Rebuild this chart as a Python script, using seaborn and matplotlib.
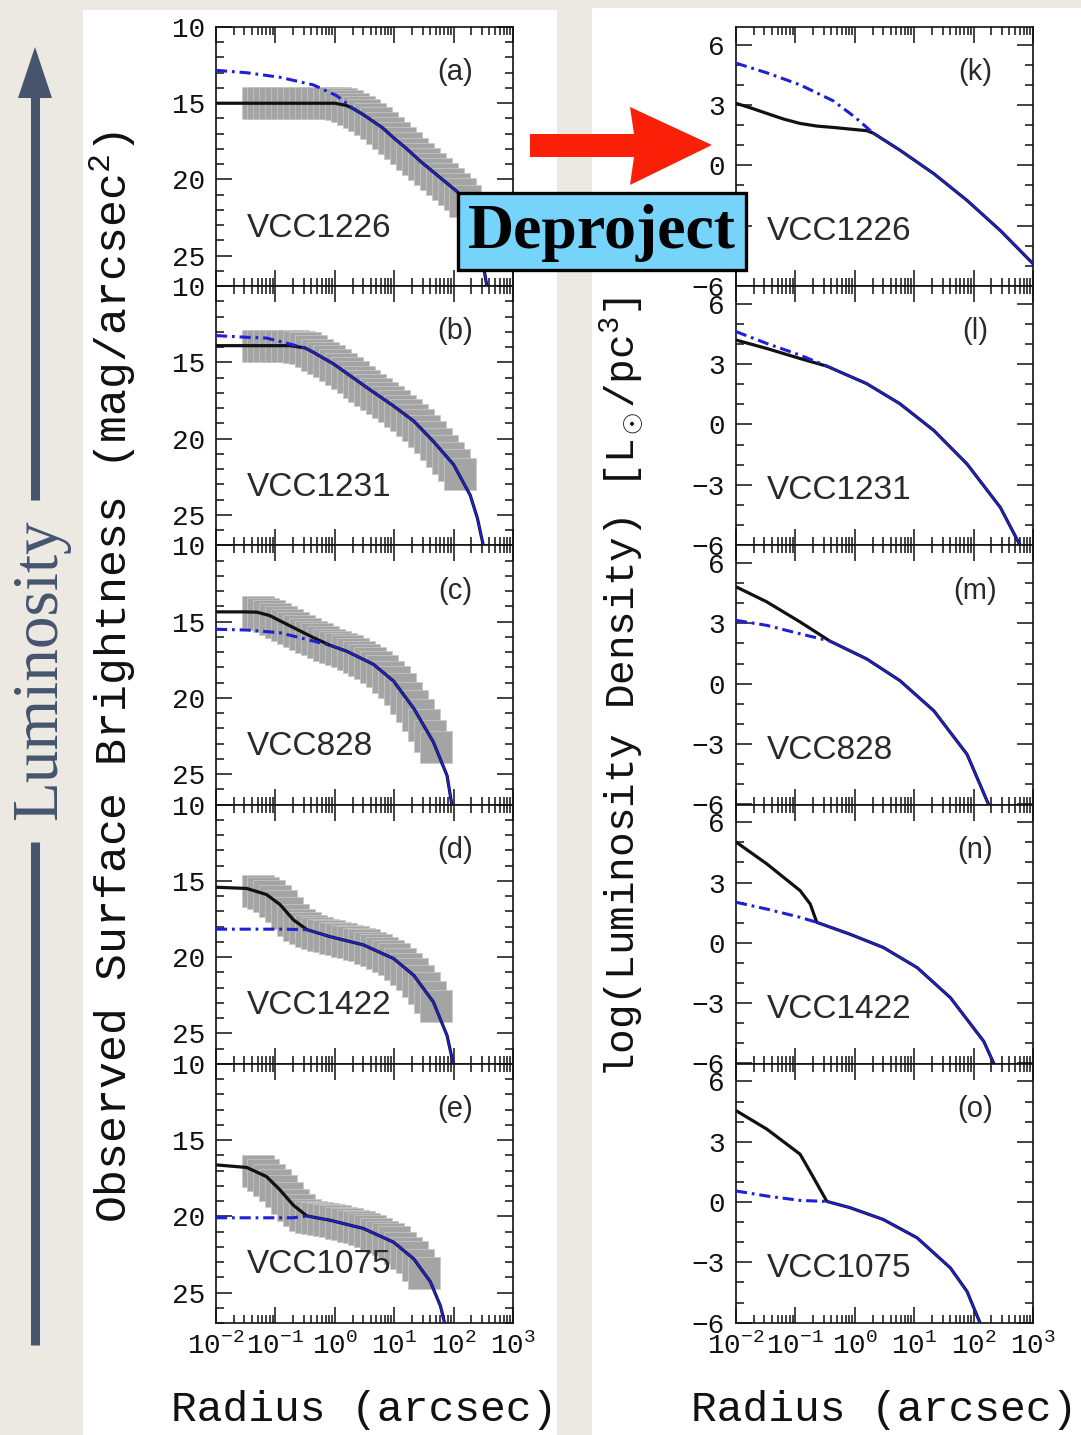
import numpy as np
import pandas as pd
import matplotlib
matplotlib.use("Agg")
import matplotlib.pyplot as plt
import seaborn as sns
from matplotlib.patches import Rectangle, Polygon
from matplotlib.lines import Line2D
from matplotlib.ticker import LogLocator, MultipleLocator, FixedLocator, NullFormatter

# ------------------------------------------------------------------
# Surface-brightness profiles (mag/arcsec^2) vs radius (arcsec)
# ------------------------------------------------------------------
names = ["VCC1226", "VCC1231", "VCC828", "VCC1422", "VCC1075"]
sb_letters = ["(a)", "(b)", "(c)", "(d)", "(e)"]
lum_letters = ["(k)", "(l)", "(m)", "(n)", "(o)"]

# radii of the observed isophotes (arcsec); each galaxy uses the first len(obs_mu_*) of them
obs_radius = [0.05, 0.063, 0.079, 0.1, 0.126, 0.158, 0.2, 0.251, 0.316, 0.398,
              0.5, 0.63, 0.79, 1.0, 1.26, 1.58, 2.0, 2.51, 3.16, 3.98,
              5.0, 6.31, 7.94, 10, 12.6, 15.8, 20, 25.1, 31.6, 39.8,
              50, 63.1, 79.4, 100, 126, 158]

# observed surface brightness (grey error boxes)
obs_mu_a = [15.0, 15.0, 15.0, 15.0, 15.0, 15.0, 15.0, 15.0, 15.0, 15.0,
            15.0, 15.0, 15.0, 15.0, 15.05, 15.15, 15.35, 15.55, 15.8, 16.05,
            16.3, 16.6, 16.95, 17.3, 17.62, 17.95, 18.3, 18.65, 19.0, 19.3,
            19.65, 19.95, 20.3, 20.6, 20.95, 21.4]
obs_mu_b = [13.9, 13.9, 13.9, 13.9, 13.9, 13.92, 13.95, 14.0, 14.08, 14.25,
            14.48, 14.7, 14.92, 15.15, 15.42, 15.7, 15.98, 16.27, 16.55, 16.8,
            17.05, 17.3, 17.6, 17.88, 18.17, 18.45, 18.75, 19.1, 19.5, 19.9,
            20.35, 20.8, 21.25, 21.7, 22.3]
obs_mu_c = [14.4, 14.5, 14.65, 14.8, 15.0, 15.2, 15.4, 15.6, 15.8, 15.98,
            16.15, 16.33, 16.5, 16.65, 16.8, 16.95, 17.13, 17.32, 17.5, 17.7,
            17.95, 18.25, 18.6, 18.95, 19.45, 20.0, 20.55, 21.15, 21.8, 22.5,
            23.2]
obs_mu_d = [15.65, 15.82, 16.0, 16.3, 16.65, 17.1, 17.55, 17.88, 18.12, 18.3,
            18.42, 18.53, 18.63, 18.72, 18.82, 18.92, 19.02, 19.12, 19.22, 19.38,
            19.55, 19.72, 19.92, 20.12, 20.45, 20.8, 21.1, 21.55, 22.05, 22.6,
            23.2]
obs_mu_e = [17.05, 17.3, 17.6, 17.95, 18.35, 18.8, 19.27, 19.62, 19.92, 20.05,
            20.12, 20.18, 20.25, 20.33, 20.42, 20.52, 20.62, 20.72, 20.82, 20.98,
            21.15, 21.33, 21.52, 21.72, 22.05, 22.4, 22.7, 23.2, 23.75]

# full model (solid black)
fit_r_a = [0.01, 0.316, 1.0, 1.585, 2.04, 3.16, 6.31, 10, 15.85, 27.5, 60.3, 115, 200, 251, 316, 363]
fit_mu_a = [15.0, 15.0, 15.0, 15.15, 15.35, 15.8, 16.6, 17.3, 17.95, 18.8, 19.9, 20.8, 21.9, 23.3, 25.6, 27.0]
fit_r_b = [0.01, 0.178, 0.316, 0.437, 0.955, 3.47, 9.77, 21.4, 45.7, 100, 190, 251, 316]
fit_mu_b = [13.9, 13.9, 14.05, 14.34, 15.1, 16.65, 17.86, 18.85, 20.18, 21.7, 23.7, 25.2, 27.0]
fit_r_c = [0.01, 0.03, 0.049, 0.08, 0.12, 0.437, 0.83, 1.585, 4.47, 9.77, 21.4, 45.7, 77.6, 93.3]
fit_mu_c = [14.36, 14.36, 14.38, 14.6, 14.95, 16.05, 16.55, 16.94, 17.8, 18.9, 20.7, 22.9, 25.1, 27.0]
fit_r_d = [0.01, 0.033, 0.071, 0.12, 0.2, 0.339, 0.83, 3.02, 9.77, 21.4, 45.7, 77.6, 100]
fit_mu_d = [15.42, 15.5, 15.9, 16.56, 17.55, 18.2, 18.66, 19.2, 20.1, 21.2, 22.95, 25.15, 27.1]
fit_r_e = [0.01, 0.033, 0.071, 0.12, 0.2, 0.339, 0.83, 3.02, 9.77, 21.4, 40.7, 60.3, 72.4]
fit_mu_e = [16.63, 16.8, 17.4, 18.28, 19.27, 19.98, 20.26, 20.8, 21.7, 22.8, 24.3, 25.9, 27.2]

# inner part of the galaxy-only model (blue dash-dot), ending where it joins the full model
gal_r_a = [0.01, 0.033, 0.12, 0.437, 1.07, 2.04]
gal_mu_a = [12.84, 13.0, 13.3, 13.8, 14.5, 15.35]
gal_r_b = [0.01, 0.033, 0.071, 0.178, 0.316]
gal_mu_b = [13.24, 13.35, 13.4, 13.8, 14.05]
gal_r_c = [0.01, 0.033, 0.12, 0.339, 0.83]
gal_mu_c = [15.5, 15.55, 15.73, 16.17, 16.55]
gal_r_d = [0.01, 0.12, 0.339]
gal_mu_d = [18.17, 18.17, 18.2]
gal_r_e = [0.01, 0.2, 0.339]
gal_mu_e = [20.1, 20.1, 19.98]

# ------------------------------------------------------------------
# Deprojected luminosity density, log(L_sun/pc^3)
# ------------------------------------------------------------------
den_r_k = [0.01, 0.017, 0.033, 0.063, 0.12, 0.229, 0.437, 0.83, 1.585, 2.04, 5.75, 21.4, 77.6, 282, 1000]
den_k = [3.08, 2.87, 2.58, 2.3, 2.08, 1.95, 1.88, 1.8, 1.72, 1.6, 0.75, -0.42, -1.75, -3.25, -4.9]
den_r_l = [0.01, 0.033, 0.12, 0.339, 1.585, 5.75, 21.4, 77.6, 282, 603]
den_l = [4.2, 3.78, 3.28, 2.9, 2.03, 1.03, -0.3, -1.97, -4.13, -6.0]
den_r_m = [0.01, 0.033, 0.12, 0.38, 1.585, 5.75, 21.4, 77.6, 178]
den_m = [4.82, 4.07, 3.07, 2.12, 1.23, 0.15, -1.35, -3.52, -6.0]
den_r_n = [0.01, 0.033, 0.12, 0.178, 0.229, 0.83, 3.02, 11.2, 40.7, 148, 219]
den_n = [5.02, 3.93, 2.6, 1.93, 1.02, 0.43, -0.23, -1.23, -2.73, -4.9, -6.0]
den_r_o = [0.01, 0.033, 0.12, 0.178, 0.339, 0.83, 3.02, 11.2, 40.7, 77.6, 129]
den_o = [4.55, 3.63, 2.38, 1.5, 0.03, -0.28, -0.87, -1.78, -3.28, -4.45, -6.03]

galden_r_k = [0.01, 0.033, 0.12, 0.437, 1.0, 2.04]
galden_k = [5.08, 4.6, 4.0, 3.2, 2.4, 1.6]
galden_r_l = [0.01, 0.033, 0.12, 0.339]
galden_l = [4.62, 4.03, 3.45, 2.9]
galden_r_m = [0.01, 0.033, 0.12, 0.38]
galden_m = [3.15, 2.9, 2.48, 2.12]
galden_r_n = [0.01, 0.033, 0.12, 0.229]
galden_n = [2.02, 1.68, 1.27, 1.02]
galden_r_o = [0.01, 0.033, 0.12, 0.339]
galden_o = [0.55, 0.3, 0.08, 0.03]

sb_panels = [
    (obs_mu_a, fit_r_a, fit_mu_a, gal_r_a, gal_mu_a),
    (obs_mu_b, fit_r_b, fit_mu_b, gal_r_b, gal_mu_b),
    (obs_mu_c, fit_r_c, fit_mu_c, gal_r_c, gal_mu_c),
    (obs_mu_d, fit_r_d, fit_mu_d, gal_r_d, gal_mu_d),
    (obs_mu_e, fit_r_e, fit_mu_e, gal_r_e, gal_mu_e),
]
den_panels = [
    (den_r_k, den_k, galden_r_k, galden_k),
    (den_r_l, den_l, galden_r_l, galden_l),
    (den_r_m, den_m, galden_r_m, galden_m),
    (den_r_n, den_n, galden_r_n, galden_n),
    (den_r_o, den_o, galden_r_o, galden_o),
]

# ------------------------------------------------------------------
W, H, DPI = 1081, 1435, 100
BG = "#ece9e3"
BLUE = "#1f1fd6"
BLACK = "#111111"
SLATE = "#46546e"
DASHDOT = (0, (8, 3.5, 2, 3.5))

sns.set_theme(style="ticks")
plt.rcParams["font.family"] = ["Liberation Mono", "DejaVu Sans"]
plt.rcParams["mathtext.fontset"] = "custom"
plt.rcParams["mathtext.rm"] = "Liberation Mono"
plt.rcParams["mathtext.it"] = "Liberation Mono"
plt.rcParams["mathtext.bf"] = "Liberation Mono"
plt.rcParams["axes.unicode_minus"] = True
plt.rcParams["lines.scale_dashes"] = False

fig = plt.figure(figsize=(W / DPI, H / DPI), dpi=DPI)
fig.patch.set_facecolor(BG)


def fx(px):
    return px / W


def fy(py):
    return 1 - py / H


def box(x0, y0, x1, y1):
    return [fx(x0), fy(y1), (x1 - x0) / W, (y1 - y0) / H]


# white sheets behind each column
fig.add_artist(Rectangle((fx(83), 0), (557 - 83) / W, (1435 - 10) / H,
                         transform=fig.transFigure, facecolor="white",
                         edgecolor="none", zorder=-10))
fig.add_artist(Rectangle((fx(592), 0), (1081 - 592) / W, (1435 - 8) / H,
                         transform=fig.transFigure, facecolor="white",
                         edgecolor="none", zorder=-10))

ROW_TOP = 27.0
ROW_H = 259.2


def style_axis(ax, bottom_labels):
    ax.set_xscale("log")
    ax.set_xlim(0.01, 1000)
    ax.xaxis.set_major_locator(LogLocator(base=10, numticks=12))
    ax.xaxis.set_minor_locator(LogLocator(base=10, subs=np.arange(2, 10), numticks=12))
    ax.xaxis.set_minor_formatter(NullFormatter())
    ax.tick_params(which="both", direction="in", top=True, right=True,
                   width=1.1, color=BLACK, labelcolor=BLACK)
    ax.tick_params(which="major", length=11.5)
    ax.tick_params(which="minor", length=5.5)
    ax.tick_params(axis="y", labelsize=20, pad=8)
    ax.tick_params(axis="x", labelsize=20, pad=7, labelbottom=bottom_labels)
    for s in ax.spines.values():
        s.set_linewidth(1.2)
        s.set_color(BLACK)
    ax.set_xlabel("")
    ax.set_ylabel("")
    ax.set_facecolor("white")


for i in range(5):
    top = ROW_TOP + ROW_H * i
    last = i == 4

    # ---------------- left column: surface brightness ----------------
    obs_mu, fit_r, fit_mu, gal_r, gal_mu = sb_panels[i]
    ax = fig.add_axes(box(216, top, 513, top + ROW_H))
    obs = pd.DataFrame({"r": obs_radius[:len(obs_mu)], "mu": obs_mu})
    sns.scatterplot(data=obs, x="r", y="mu", ax=ax, marker="s", s=520,
                    color="#a4a4a4", edgecolor="#c8c8c8", linewidth=0.5,
                    legend=False, zorder=1)
    sns.lineplot(x=fit_r, y=fit_mu, ax=ax, color=BLACK, lw=2.3,
                 sort=False, estimator=None, zorder=2)
    k = fit_r.index(gal_r[-1])
    sns.lineplot(x=fit_r[k:], y=fit_mu[k:], ax=ax, color=BLUE, lw=1.4,
                 sort=False, estimator=None, zorder=3)
    sns.lineplot(x=gal_r, y=gal_mu, ax=ax, color=BLUE, lw=2.2,
                 linestyle=DASHDOT, sort=False, estimator=None, zorder=3)
    style_axis(ax, last)
    ax.set_ylim(27, 10)
    ax.yaxis.set_major_locator(FixedLocator([10, 15, 20, 25]))
    ax.yaxis.set_minor_locator(MultipleLocator(1))
    ax.text(0.805, 0.826, sb_letters[i], transform=ax.transAxes, ha="center",
            va="center", fontsize=21, family=["Liberation Sans"], color="#2a2a2a")
    ax.text(0.104, 0.224, names[i], transform=ax.transAxes, ha="left",
            va="center", fontsize=24, family=["Liberation Sans"], color="#2a2a2a")

    # ---------------- right column: luminosity density ----------------
    d_r, d_v, g_r, g_v = den_panels[i]
    ax2 = fig.add_axes(box(736, top, 1033, top + ROW_H))
    sns.lineplot(x=d_r, y=d_v, ax=ax2, color=BLACK, lw=2.3,
                 sort=False, estimator=None, zorder=2)
    k = d_r.index(g_r[-1])
    sns.lineplot(x=d_r[k:], y=d_v[k:], ax=ax2, color=BLUE, lw=1.4,
                 sort=False, estimator=None, zorder=3)
    sns.lineplot(x=g_r, y=g_v, ax=ax2, color=BLUE, lw=2.2,
                 linestyle=DASHDOT, sort=False, estimator=None, zorder=3)
    style_axis(ax2, last)
    ax2.set_ylim(-6.02, 6.88)
    ax2.yaxis.set_major_locator(FixedLocator([-6, -3, 0, 3, 6]))
    ax2.yaxis.set_minor_locator(MultipleLocator(1))
    ax2.text(0.805, 0.826, lum_letters[i], transform=ax2.transAxes, ha="center",
             va="center", fontsize=21, family=["Liberation Sans"], color="#2a2a2a")
    ax2.text(0.104, 0.21, names[i], transform=ax2.transAxes, ha="left",
             va="center", fontsize=24, family=["Liberation Sans"], color="#2a2a2a")

# axis titles
fig.text(fx(113), fy(677), "Observed Surface Brightness (mag/arcsec$^2$)",
         rotation=90, ha="center", va="center", fontsize=32.3, color=BLACK)
fig.text(fx(622), fy(1078), "log(Luminosity Density) [L$_\\odot$/pc$^3$]",
         rotation=90, ha="center", va="bottom", fontsize=29.5, color=BLACK)
fig.text(fx(364.5), fy(1410), "Radius (arcsec)", ha="center", va="center",
         fontsize=31, color=BLACK)
fig.text(fx(884.5), fy(1410), "Radius (arcsec)", ha="center", va="center",
         fontsize=31, color=BLACK)

# "Luminosity" arrow on the far left
fig.add_artist(Line2D([fx(35), fx(35)], [fy(1345), fy(842)], transform=fig.transFigure,
                      color=SLATE, lw=6.5, solid_capstyle="butt"))
fig.add_artist(Line2D([fx(35), fx(35)], [fy(500), fy(94)], transform=fig.transFigure,
                      color=SLATE, lw=6.5, solid_capstyle="butt"))
fig.add_artist(Polygon([[fx(35), fy(47)], [fx(18), fy(98)], [fx(52), fy(98)]],
                       closed=True, transform=fig.transFigure, facecolor=SLATE,
                       edgecolor="none"))
fig.text(fx(40), fy(670), "Luminosity", rotation=90, ha="center", va="center",
         fontsize=47, family=["Liberation Serif"], color=SLATE)

# red arrow between the columns
arrow_px = [(530, 134), (634, 134), (630, 107), (712, 145), (630, 185),
            (634, 157), (530, 157)]
fig.add_artist(Polygon([[fx(x), fy(y)] for x, y in arrow_px], closed=True,
                       transform=fig.transFigure, facecolor="#fa2008",
                       edgecolor="none", zorder=20))

# "Deproject" label box
fig.add_artist(Rectangle((fx(458), fy(270)), (746 - 458) / W, (270 - 193) / H,
                         transform=fig.transFigure, facecolor="#76d4fb",
                         edgecolor="black", linewidth=2.4, zorder=20))
fig.text(fx(602), fy(233), "Deproject", ha="center", va="center", fontsize=46,
         fontweight="bold", family=["Liberation Serif"], color="black", zorder=21)

fig.savefig("out.png", dpi=DPI, facecolor=fig.get_facecolor())
